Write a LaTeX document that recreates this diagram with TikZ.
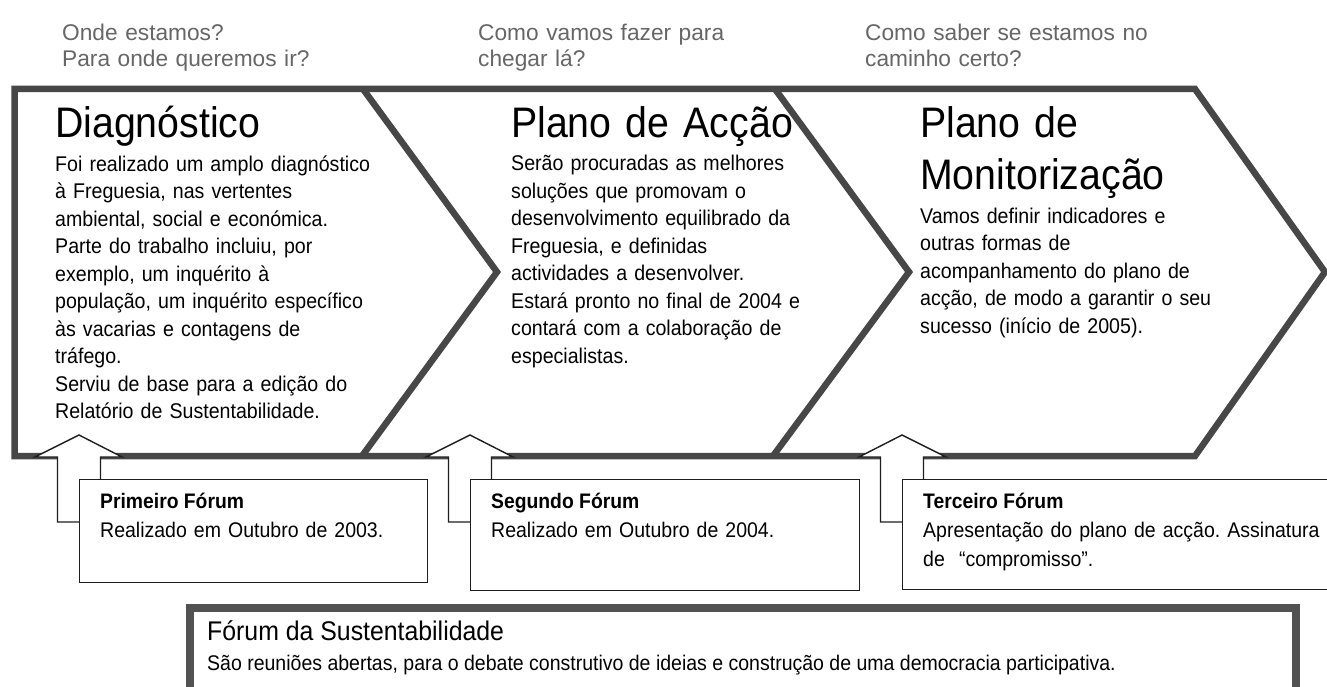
\documentclass[tikz,border=0pt]{standalone}
\usepackage{fontspec}
\setmainfont{Liberation Sans}
\newfontfamily\narrowfont{Liberation Sans}[FakeStretch=0.92]
\frenchspacing
\definecolor{framegray}{HTML}{474747}
\definecolor{boxgray}{HTML}{525252}
\definecolor{qgray}{HTML}{666666}
\definecolor{thinline}{HTML}{1E1E1E}
\begin{document}
\begin{tikzpicture}[x=1pt,y=-1pt,
  frameline/.style={draw=framegray, line width=6.5pt, line join=miter},
  qtxt/.style={inner sep=0pt, anchor=base west, text width=400pt, align=left, text=qgray,
    font=\fontsize{22.7}{26}\selectfont},
  ttl/.style={inner sep=0pt, anchor=base west, text width=420pt, align=left,
    font=\narrowfont\fontsize{42.7}{52}\selectfont},
  bodytxt/.style={inner sep=0pt, anchor=base west, text width=420pt, align=left,
    font=\narrowfont\fontsize{21.3}{27.5}\selectfont},
  fttl/.style={inner sep=0pt, anchor=base west, font=\narrowfont\bfseries\fontsize{21}{29}\selectfont},
  ftxt/.style={inner sep=0pt, anchor=base west, text width=440pt, align=left,
    font=\narrowfont\fontsize{21.2}{29.5}\selectfont},
  forumbox/.style={draw=thinline, line width=1.4pt, fill=white, inner sep=0pt, anchor=north west},
  uparrow/.style={draw=thinline, line width=1.4pt, fill=white, line join=miter},
  bigbox/.style={draw=boxgray, line width=8pt, fill=white, inner sep=0pt, anchor=north west}
]
\useasboundingbox (0,0) rectangle (1327,687);
\clip (0,0) rectangle (1327,687);
\fill[white] (0,0) rectangle (1327,687);

% questions
\node[qtxt] (q1) at (62,41) {Onde estamos?\\Para onde queremos ir?};
\node[qtxt] (q2) at (478,41) {Como vamos fazer para\\chegar lá?};
\node[qtxt] (q3) at (865,41) {Como saber se estamos no\\caminho certo?};

% chevron frame
\draw[frameline] (14.5,89) -- (1195,89) -- (1325,272) -- (1195,456) -- (14.5,456) -- cycle;
\draw[frameline] (363,89) -- (497,272) -- (362,456);
\draw[frameline] (775,89) -- (909,272) -- (773,456);

% stage 1
\node[ttl] (t1) at (55,138) {Diagnóstico};
\node[bodytxt] (b1) at (55,171.5) {Foi realizado um amplo diagnóstico\\
à Freguesia, nas vertentes\\
ambiental, social e económica.\\
Parte do trabalho incluiu, por\\
exemplo, um inquérito à\\
população, um inquérito específico\\
às vacarias e contagens de\\
tráfego.\\
Serviu de base para a edição do\\
Relatório de Sustentabilidade.};

% stage 2
\node[ttl] (t2) at (511,138) {Plano de Acção};
\node[bodytxt] (b2) at (511,171) {Serão procuradas as melhores\\
soluções que promovam o\\
desenvolvimento equilibrado da\\
Freguesia, e definidas\\
actividades a desenvolver.\\
Estará pronto no final de 2004 e\\
contará com a colaboração de\\
especialistas.};

% stage 3
\node[ttl] (t3) at (920,138) {Plano de\\Monitorização};
\node[bodytxt] (b3) at (920,223) {Vamos definir indicadores e\\
outras formas de\\
acompanhamento do plano de\\
acção, de modo a garantir o seu\\
sucesso (início de 2005).};

% arrows
\draw[uparrow] (35,457) -- (79,435) -- (122,457) -- (100.5,457) -- (100.5,522) -- (57.5,522) -- (57.5,457) -- cycle;
\draw[uparrow] (426,457) -- (470,435) -- (513,457) -- (491.5,457) -- (491.5,522) -- (448.5,522) -- (448.5,457) -- cycle;
\draw[uparrow] (859,457) -- (902,435) -- (946,457) -- (923.5,457) -- (923.5,522) -- (880.5,522) -- (880.5,457) -- cycle;

% forum boxes
\node[forumbox, minimum width=348pt, minimum height=103pt] (f1) at (79,479) {};
\node[forumbox, minimum width=389pt, minimum height=111pt] (f2) at (470,479) {};
\node[forumbox, minimum width=440pt, minimum height=110pt] (f3) at (902,479) {};

\node[fttl] (f1t) at (100,508) {Primeiro Fórum};
\node[ftxt] (f1b) at (100,537) {Realizado em Outubro de 2003.};
\node[fttl] (f2t) at (491,508) {Segundo Fórum};
\node[ftxt] (f2b) at (491,537) {Realizado em Outubro de 2004.};
\node[fttl] (f3t) at (923,508) {Terceiro Fórum};
\node[ftxt] (f3b) at (923,537) {Apresentação do plano de acção. Assinatura\\de\ \ “compromisso”.};

% sustainability forum
\node[bigbox, minimum width=1106pt, minimum height=90pt] (sf) at (186,603.5) {};
\node[inner sep=0pt, anchor=base west, font=\narrowfont\fontsize{27}{30}\selectfont] (sft) at (207,640) {Fórum da Sustentabilidade};
\node[inner sep=0pt, anchor=base west, font=\narrowfont\fontsize{21.2}{27.5}\selectfont] (sfb) at (207,670) {São reuniões abertas, para o debate construtivo de ideias e construção de uma democracia participativa.};
\end{tikzpicture}
\end{document}
